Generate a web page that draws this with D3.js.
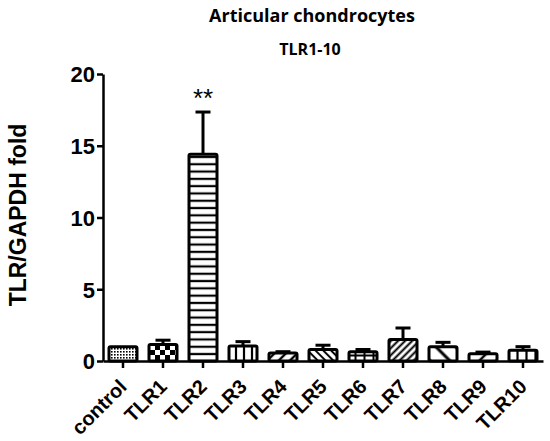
<!DOCTYPE html>
<html>
<head>
<meta charset="utf-8" />
<script src="https://d3js.org/d3.v7.min.js"></script>
<style>
  body, html { margin: 0; padding: 0; background: #fff; }
  .tick text { font-family: "Liberation Sans", Arial, sans-serif; font-weight: bold; }
</style>
</head>
<body>
<div id="chart"></div>
<script>
  // data
  const categories = ["control", "TLR1", "TLR2", "TLR3", "TLR4", "TLR5", "TLR6", "TLR7", "TLR8", "TLR9", "TLR10"];
  const means = [1.0, 1.15, 14.4, 1.05, 0.55, 0.8, 0.65, 1.5, 1.0, 0.5, 0.75];
  const errors = [0.0, 0.3, 2.95, 0.3, 0.1, 0.3, 0.15, 0.8, 0.3, 0.12, 0.25];
  const patterns = ["fine", "checker", "hlines", "vlines", "diag", "bdiag", "grid", "diagDense", "bdiagWide", "diagWide", "vlinesWide"];
  const yTicks = [0, 5, 10, 15, 20];

  const width = 550, height = 441;
  const svg = d3.select("#chart").append("svg")
    .attr("width", width)
    .attr("height", height);

  const x = d3.scaleBand().domain(categories).range([103, 543]).padding(0);
  const y = d3.scaleLinear().domain([0, 20]).range([361, 74]);

  // fill patterns
  const defs = svg.append("defs");
  function linePattern(id, size, angle, sw) {
    const p = defs.append("pattern").attr("id", id)
      .attr("patternUnits", "userSpaceOnUse")
      .attr("width", size).attr("height", size)
      .attr("patternTransform", `rotate(${angle})`);
    p.append("rect").attr("width", size).attr("height", size).attr("fill", "#fff");
    p.append("line").attr("x1", 0).attr("y1", size / 2).attr("x2", size).attr("y2", size / 2)
      .attr("stroke", "#000").attr("stroke-width", sw);
  }
  linePattern("hlines", 7.3, 0, 2.2);
  linePattern("vlines", 8, 90, 2.2);
  linePattern("vlinesWide", 9, 90, 2.2);
  linePattern("diag", 8, -45, 2.4);
  linePattern("bdiag", 5.5, 45, 2);
  linePattern("diagDense", 5, -45, 2);
  linePattern("bdiagWide", 14, 45, 3);
  linePattern("diagWide", 12, -45, 2.5);

  const fine = defs.append("pattern").attr("id", "fine")
    .attr("patternUnits", "userSpaceOnUse").attr("width", 3).attr("height", 3);
  fine.append("rect").attr("width", 3).attr("height", 3).attr("fill", "#fff");
  fine.append("rect").attr("width", 1.6).attr("height", 1.6).attr("fill", "#000");

  const checker = defs.append("pattern").attr("id", "checker")
    .attr("patternUnits", "userSpaceOnUse").attr("width", 10).attr("height", 10);
  checker.append("rect").attr("width", 10).attr("height", 10).attr("fill", "#fff");
  checker.append("rect").attr("width", 5).attr("height", 5).attr("fill", "#000");
  checker.append("rect").attr("x", 5).attr("y", 5).attr("width", 5).attr("height", 5).attr("fill", "#000");

  const grid = defs.append("pattern").attr("id", "grid")
    .attr("patternUnits", "userSpaceOnUse").attr("width", 9).attr("height", 9);
  grid.append("rect").attr("width", 9).attr("height", 9).attr("fill", "#fff");
  grid.append("line").attr("x1", 4.5).attr("x2", 4.5).attr("y1", 0).attr("y2", 9).attr("stroke", "#000").attr("stroke-width", 2);
  grid.append("line").attr("x1", 0).attr("x2", 9).attr("y1", 4.5).attr("y2", 4.5).attr("stroke", "#000").attr("stroke-width", 2);

  const bw = 28;
  const data = categories.map((c, i) => ({ c, m: means[i], e: errors[i], p: patterns[i] }));

  // error bars (one-sided, upwards)
  const eb = svg.append("g").selectAll("g").data(data.filter(d => d.e > 0)).enter().append("g");
  eb.append("line")
    .attr("x1", d => x(d.c) + x.bandwidth() / 2).attr("x2", d => x(d.c) + x.bandwidth() / 2)
    .attr("y1", d => y(d.m)).attr("y2", d => y(d.m + d.e))
    .attr("stroke", "#000").attr("stroke-width", 3);
  eb.append("line")
    .attr("x1", d => x(d.c) + x.bandwidth() / 2 - 7.5).attr("x2", d => x(d.c) + x.bandwidth() / 2 + 7.5)
    .attr("y1", d => y(d.m + d.e)).attr("y2", d => y(d.m + d.e))
    .attr("stroke", "#000").attr("stroke-width", 3);

  // bars
  svg.append("g").selectAll("rect").data(data).enter().append("rect")
    .attr("x", d => x(d.c) + (x.bandwidth() - bw) / 2)
    .attr("width", bw)
    .attr("y", d => y(d.m))
    .attr("height", d => y(0) - y(d.m))
    .attr("fill", d => `url(#${d.p})`)
    .attr("stroke", "#000")
    .attr("stroke-width", 3)
    .attr("rx", 1.5);

  // axes
  const yAxis = svg.append("g").attr("transform", "translate(103,0)")
    .call(d3.axisLeft(y).tickValues(yTicks).tickSize(6).tickPadding(2).tickSizeOuter(0));
  yAxis.selectAll("text").style("font-size", "22px").attr("dy", "0.36em");

  const xAxis = svg.append("g").attr("transform", "translate(0,361)")
    .call(d3.axisBottom(x).tickSize(7).tickSizeOuter(0));
  xAxis.selectAll("text")
    .style("font-size", "20px")
    .style("text-anchor", "end")
    .attr("x", 0).attr("y", 0)
    .attr("dx", 0).attr("dy", 0)
    .attr("transform", "translate(5,27) rotate(-45)");

  svg.selectAll(".domain").attr("stroke", "#000").attr("stroke-width", 2.5);
  svg.selectAll(".tick line").attr("stroke", "#000").attr("stroke-width", 2.5);

  // y label
  svg.append("text")
    .attr("transform", "translate(26,215) rotate(-90)")
    .attr("text-anchor", "middle")
    .style("font-family", "Liberation Sans, Arial, sans-serif")
    .style("font-weight", "bold")
    .style("font-size", "23px")
    .text("TLR/GAPDH fold");

  // titles
  svg.append("text")
    .attr("x", 312).attr("y", 22)
    .attr("text-anchor", "middle")
    .style("font-family", "'Open Sans', sans-serif")
    .style("font-weight", "bold")
    .style("font-size", "18px")
    .text("Articular chondrocytes");
  svg.append("text")
    .attr("x", 310).attr("y", 55)
    .attr("text-anchor", "middle")
    .style("font-family", "'Open Sans', sans-serif")
    .style("font-weight", "bold")
    .style("font-size", "16px")
    .text("TLR1-10");

  // significance
  svg.append("text")
    .attr("x", x("TLR2") + x.bandwidth() / 2).attr("y", 107)
    .attr("text-anchor", "middle")
    .style("font-family", "Liberation Sans, Arial, sans-serif")
    .style("font-size", "26px")
    .text("**");
</script>
</body>
</html>
